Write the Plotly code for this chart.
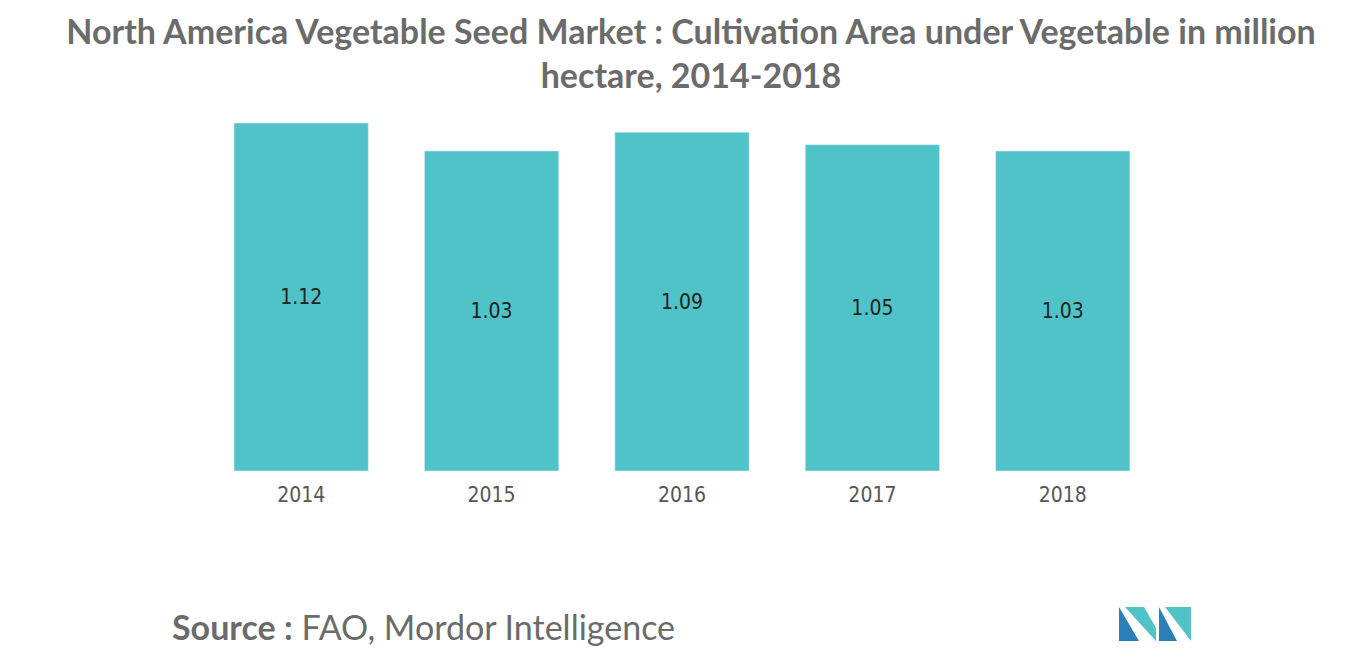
import plotly.graph_objects as go

years = ["2014", "2015", "2016", "2017", "2018"]
area = [1.12, 1.03, 1.09, 1.05, 1.03]

# page seems offset by ~8px, compensate
L, R, T, B = 198, 216, 115, 192
W, H = 1366, 655
PW, PH = W - L - R, H - T - B
OFF = 7

fig = go.Figure()
fig.add_trace(go.Bar(
    x=years, y=area, text=[f"{v:.2f}" for v in area],
    textposition="inside", insidetextanchor="middle",
    textfont=dict(size=21, color="#222222", family="DejaVu Sans Condensed, sans-serif"),
    marker_color="#4fc3c8", width=0.705,
))

fig.update_layout(
    width=W, height=H,
    margin=dict(l=L, r=R, t=T, b=B),
    plot_bgcolor="white", paper_bgcolor="white",
    showlegend=False,
    title=dict(
        text="<b>North America Vegetable Seed Market : Cultivation Area under Vegetable in million<br>hectare, 2014-2018</b>",
        x=0.5, xanchor="center", y=0.945, yanchor="top",
        font=dict(size=34, color="#6b6b6b", family="Lato, Noto Sans, sans-serif"),
    ),
    xaxis=dict(showline=False, ticks="", ticklabelstandoff=9,
               tickfont=dict(size=21, color="#555555", family="DejaVu Sans Condensed, sans-serif")),
    yaxis=dict(visible=False, range=[0, 1.12]),
)

fig.add_annotation(
    text="<b>Source :</b> FAO, Mordor Intelligence", xref="paper", yref="paper",
    x=(162 - L) / PW, y=(H - B - 618) / PH, xanchor="left", yanchor="middle", showarrow=False,
    font=dict(size=34, color="#6b6b6b", family="Lato, Noto Sans, sans-serif"),
)

# logo, drawn in pixel coords and converted to paper coords
paths = [
    ("M1118,640 L1118,606 L1138,640 Z", "#2a7fb8"),
    ("M1124,606 L1143,606 L1155,627 L1155,640 Z", "#4fc3c8"),
    ("M1158,606 L1158,640 L1176,640 Z", "#2a7fb8"),
    ("M1164,606 L1190,606 L1190,640 Z", "#4fc3c8"),
]
for p, c in paths:
    toks = p.replace("M", " M ").replace("L", " L ").replace("Z", " Z ").split()
    out = []
    for t in toks:
        if "," in t:
            x, y = map(float, t.split(","))
            out.append(f"{(x - OFF - L) / PW:.5f},{(H - B - (y - OFF)) / PH:.5f}")
        else:
            out.append(t)
    fig.add_shape(type="path", xref="paper", yref="paper", path=" ".join(out),
                  fillcolor=c, line_width=0)

fig.write_html("out.html")
